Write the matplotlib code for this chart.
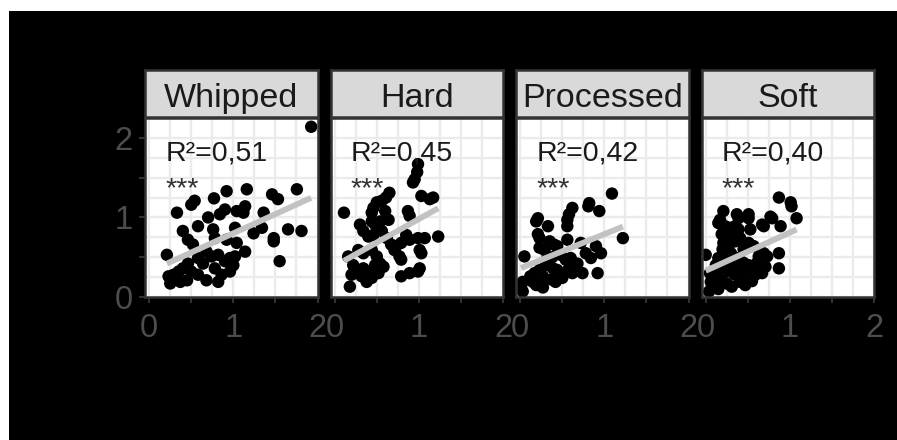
import matplotlib
matplotlib.use("Agg")
import matplotlib.pyplot as plt
from matplotlib.patches import Rectangle
import numpy as np

plt.rcParams['font.family'] = ['Liberation Sans', 'DejaVu Sans']

# ---------------- data ----------------
categories = ["Whipped", "Hard", "Processed", "Soft"]
r2_labels = ["R²=0,51", "R²=0,45", "R²=0,42", "R²=0,40"]
sig_labels = ["***", "***", "***", "***"]

whipped_x = [1.755, 1.46, 1.53, 1.16, 0.92, 0.77, 0.54, 0.50, 0.33, 0.90, 0.84, 1.04, 1.12, 1.14,
             0.70, 1.36, 0.58, 0.40, 0.76, 1.02, 1.24, 1.34, 1.65, 1.81, 1.48, 1.48, 0.46, 0.52,
             0.78, 0.92, 1.04, 1.14, 1.02, 0.21, 1.55, 0.68, 0.74, 0.82, 0.90, 0.96, 0.58, 0.64,
             0.46, 0.40, 0.35, 0.29, 0.25, 0.50, 0.58, 0.68, 0.78, 0.86, 0.96, 1.00, 0.82, 0.37,
             0.45, 0.23, 1.925]
whipped_y = [1.354, 1.29, 1.23, 1.354, 1.33, 1.24, 1.21, 1.16, 1.06, 1.10, 1.04, 1.08, 1.06, 1.14,
             1.00, 1.06, 0.89, 0.83, 0.85, 0.87, 0.80, 0.87, 0.85, 0.83, 0.74, 0.70, 0.72, 0.66,
             0.74, 0.72, 0.68, 0.57, 0.51, 0.53, 0.45, 0.57, 0.51, 0.53, 0.45, 0.49, 0.49, 0.42,
             0.42, 0.36, 0.32, 0.28, 0.17, 0.32, 0.28, 0.21, 0.36, 0.28, 0.32, 0.40, 0.19, 0.19,
             0.21, 0.26, 2.14]

hard_x = [0.99, 0.98, 0.95, 0.93, 1.03, 1.13, 1.17, 0.65, 0.61, 0.56, 0.50, 0.46, 0.44, 0.11,
          0.60, 0.64, 0.87, 0.89, 0.30, 0.44, 0.48, 0.54, 0.34, 0.40, 0.46, 0.56, 0.62, 0.85,
          0.89, 0.99, 1.07, 1.23, 0.67, 0.73, 0.79, 1.01, 1.03, 0.77, 0.79, 0.16, 0.28, 0.34,
          0.44, 0.50, 0.48, 0.22, 0.26, 0.20, 0.34, 0.40, 0.32, 0.52, 0.44, 0.18, 1.01, 0.99,
          0.79, 0.89, 0.54, 0.58, 0.71, 0.38]
hard_y = [1.67, 1.57, 1.48, 1.44, 1.27, 1.23, 1.25, 1.31, 1.25, 1.21, 1.19, 1.12, 1.06, 1.06,
          1.08, 0.97, 1.08, 1.02, 0.91, 0.95, 0.91, 0.95, 0.83, 0.76, 0.78, 0.83, 0.74, 0.78,
          0.72, 0.74, 0.74, 0.76, 0.66, 0.64, 0.68, 0.59, 0.55, 0.51, 0.47, 0.51, 0.59, 0.55,
          0.59, 0.51, 0.40, 0.40, 0.34, 0.28, 0.36, 0.32, 0.26, 0.30, 0.24, 0.13, 0.36, 0.32,
          0.26, 0.30, 0.42, 0.38, 0.59, 0.19]

processed_x = [1.09, 0.82, 0.81, 0.94, 0.62, 0.58, 0.56, 0.56, 0.21, 0.19, 0.33, 0.21, 0.23, 0.35,
               0.40, 0.44, 0.23, 0.29, 0.56, 0.72, 0.90, 0.96, 1.22, 0.78, 0.84, 0.05, 0.48, 0.54,
               0.60, 0.68, 0.66, 0.33, 0.39, 0.44, 0.23, 0.17, 0.48, 0.62, 0.74, 0.92, 0.03, 0.01,
               0.03, 0.15, 0.19, 0.27, 0.37, 0.42, 0.30, 0.50, 0.58, 0.12, 0.45, 0.38, 0.27]
processed_y = [1.30, 1.18, 1.14, 1.08, 1.12, 1.04, 0.97, 0.89, 0.99, 0.95, 0.89, 0.79, 0.74, 0.70,
               0.66, 0.64, 0.62, 0.59, 0.72, 0.68, 0.64, 0.55, 0.74, 0.55, 0.49, 0.51, 0.53, 0.47,
               0.49, 0.42, 0.38, 0.40, 0.36, 0.34, 0.34, 0.30, 0.28, 0.30, 0.30, 0.30, 0.19, 0.13,
               0.07, 0.19, 0.15, 0.26, 0.22, 0.19, 0.45, 0.24, 0.36, 0.26, 0.56, 0.50, 0.12]

soft_x = [0.87, 1.01, 1.02, 1.08, 0.77, 0.79, 0.67, 0.69, 0.89, 0.21, 0.17, 0.15, 0.37, 0.39,
          0.51, 0.51, 0.53, 0.23, 0.29, 0.35, 0.39, 0.19, 0.25, 0.31, 0.21, 0.27, 0.35, 0.41,
          0.00, 0.51, 0.57, 0.69, 0.73, 0.87, 0.87, 0.63, 0.61, 0.15, 0.23, 0.19, 0.39, 0.45,
          0.41, 0.51, 0.57, 0.65, 0.29, 0.35, 0.43, 0.51, 0.59, 0.67, 0.08, 0.13, 0.06, 0.10,
          0.04, 0.19, 0.25, 0.31, 0.71, 0.41, 0.47, 0.12, 0.30, 0.20, 0.45, 0.55, 0.33, 0.05, 0.15]
soft_y = [1.25, 1.19, 1.14, 0.99, 1.01, 0.99, 0.91, 0.89, 0.89, 1.08, 0.97, 0.93, 1.04, 0.99,
          1.04, 0.99, 0.85, 0.89, 0.87, 0.89, 0.85, 0.79, 0.74, 0.79, 0.68, 0.64, 0.70, 0.74,
          0.53, 0.68, 0.64, 0.55, 0.51, 0.55, 0.36, 0.51, 0.43, 0.49, 0.45, 0.36, 0.49, 0.43,
          0.36, 0.40, 0.36, 0.34, 0.32, 0.28, 0.28, 0.30, 0.28, 0.30, 0.32, 0.26, 0.19, 0.13,
          0.07, 0.22, 0.17, 0.13, 0.38, 0.19, 0.15, 0.40, 0.55, 0.60, 0.60, 0.20, 0.42, 0.30, 0.10]

# fitted lines (intercept, slope)
fit_intercepts = [0.319, 0.39, 0.36, 0.33]
fit_slopes = [0.482, 0.59, 0.43, 0.48]

xs = [whipped_x, hard_x, processed_x, soft_x]
ys = [whipped_y, hard_y, processed_y, soft_y]

x_ticks = [0, 0.5, 1, 1.5, 2]
x_ticklabels = ["0", "", "1", "", "2"]
y_ticks = [0, 0.5, 1, 1.5, 2]
y_ticklabels = ["0", "", "1", "", "2"]
grid_minor = [0.25, 0.75, 1.25, 1.75]

# ---------------- figure ----------------
W, H = 897, 440
fig = plt.figure(figsize=(W / 100, H / 100), dpi=100, facecolor="white")
fig.patches.append(Rectangle((9 / W, 0), 1 - 9 / W, 1 - 11 / H, transform=fig.transFigure,
                             facecolor="black", edgecolor="none", zorder=-10))

panel_left0 = 145
panel_w = 172.5
panel_step = 185.5
panel_top = 118
panel_bottom = 297
strip_top = 70
strip_bottom = 117

border = "#333333"
for i, cat in enumerate(categories):
    left = panel_left0 + i * panel_step
    ax = fig.add_axes([left / W, (H - panel_bottom) / H, panel_w / W,
                       (panel_bottom - panel_top) / H])
    ax.set_facecolor("white")
    ax.set_xlim(-0.05, 2.0)
    ax.set_ylim(0, 2.25)
    ax.set_xticks(x_ticks)
    ax.set_xticklabels(x_ticklabels)
    ax.set_yticks(y_ticks)
    ax.set_yticklabels(y_ticklabels)
    ax.set_xticks(grid_minor, minor=True)
    ax.set_yticks(grid_minor, minor=True)
    ax.grid(True, which="both", color="#EBEBEB", linewidth=1.7, zorder=0)
    ax.set_axisbelow(True)
    ax.tick_params(which="minor", length=0)
    ax.tick_params(which="major", colors=border, length=4.3, width=1.4,
                   labelcolor="#4D4D4D", labelsize=23.5)
    ax.tick_params(axis="x", which="major", pad=7)
    ax.tick_params(axis="y", which="major", pad=4.5)
    if i > 0:
        ax.tick_params(axis="y", which="both", left=False, labelleft=False)
    for sp in ax.spines.values():
        sp.set_color(border)
        sp.set_linewidth(1.8)
        sp.set_zorder(5)

    ax.scatter(xs[i], ys[i], s=80, color="black", edgecolors="none", zorder=3)
    xmin, xmax = min(xs[i]), max(xs[i])
    lx = np.array([xmin, xmax])
    ax.plot(lx, fit_intercepts[i] + fit_slopes[i] * lx, color="#C2C2C2",
            linewidth=4.2, solid_capstyle="butt", zorder=4)

    ax.text(0.19, 1.71, r2_labels[i], fontsize=20.5, color="#1A1A1A",
            ha="left", va="baseline", zorder=6)
    ax.text(0.19, 1.27, sig_labels[i], fontsize=20.5, color="#333333",
            ha="left", va="baseline", zorder=6)

    sax = fig.add_axes([left / W, (H - strip_bottom) / H, panel_w / W,
                        (strip_bottom - strip_top) / H])
    sax.set_facecolor("#D9D9D9")
    sax.set_xticks([])
    sax.set_yticks([])
    for sp in sax.spines.values():
        sp.set_color(border)
        sp.set_linewidth(1.8)
    sax.text(0.5, 0.22, cat, transform=sax.transAxes, ha="center", va="baseline",
             fontsize=24.5, color="#1A1A1A")

fig.savefig("out.png", dpi=100, facecolor=fig.get_facecolor())
